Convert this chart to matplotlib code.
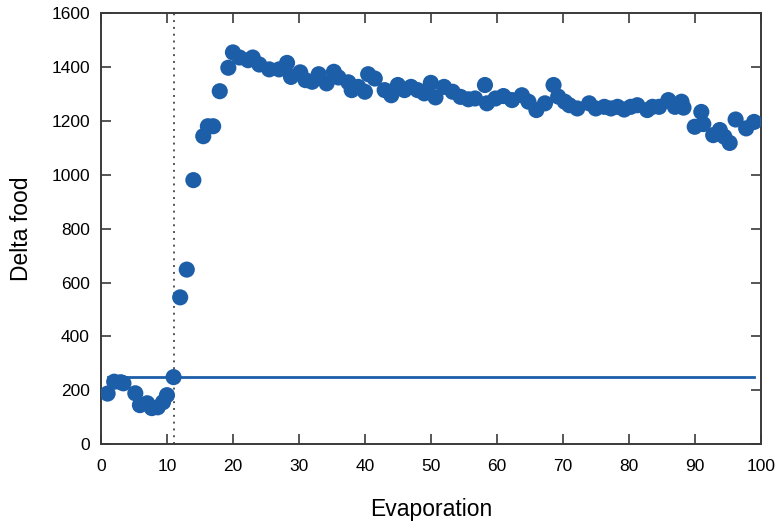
import matplotlib.pyplot as plt

plt.rcParams["font.family"] = ["Liberation Sans", "DejaVu Sans"]

BLUE = "#1c5ea8"
AXIS = "#3a3a3a"

# evaporation rate vs. change in food collected
evaporation = [
    1, 2, 3, 3.4, 5.2, 5.9, 7, 7.7, 8.6, 9.4, 10, 11,
    12, 13, 14, 15.5, 16.2, 17, 18, 19.3, 20, 21, 22.3, 23, 24, 25.5, 27,
    28.2, 28.8, 30.2, 31, 32, 33, 34.2, 35.3, 36, 37.5, 38, 39, 40, 40.5,
    41.5, 43, 44, 45, 46, 47, 48, 49, 50, 50.7, 52, 53.3, 54.5, 55.7, 56.7,
    58.2, 58.5, 59.8, 61, 62.3, 63.8, 64.8, 66, 67.3, 68.6, 69.3, 70.3, 71,
    72.2, 74, 75, 76.3, 77.3, 78.3, 79.3, 80.3, 81.3, 82.8, 83.6, 84.6, 86,
    87, 88, 88.3, 90, 91, 91.3, 92.8, 93.8, 94.5, 95.3, 96.2, 97.8, 99,
]
delta_food = [
    188, 232, 230, 226, 189, 145, 152, 134, 137, 156, 182, 249,
    545, 648, 980, 1143, 1180, 1180, 1310, 1397, 1454, 1435, 1425, 1435,
    1409, 1391, 1391, 1415, 1363, 1380, 1351, 1345, 1373, 1339, 1382, 1361,
    1343, 1314, 1326, 1308, 1373, 1357, 1314, 1295, 1333, 1314, 1326, 1314,
    1302, 1341, 1287, 1326, 1308, 1289, 1280, 1283, 1333, 1265, 1283, 1292,
    1277, 1295, 1271, 1240, 1265, 1333, 1290, 1271, 1258, 1246, 1265, 1246,
    1252, 1246, 1252, 1242, 1252, 1258, 1240, 1252, 1252, 1277, 1252, 1271,
    1249, 1178, 1233, 1188, 1147, 1166, 1141, 1118, 1205, 1172, 1196,
]

baseline = 250
baseline_span = [1, 99]
threshold_x = 11

fig = plt.figure(figsize=(7.77, 5.22), dpi=100)
ax = fig.add_axes([0.130, 0.149, 0.849, 0.826])

ax.axvline(threshold_x, color="#555555", lw=1.4, ls=(0, (1, 2.5)), zorder=1)
ax.plot(baseline_span, [baseline, baseline], color=BLUE, lw=2, zorder=2)
ax.scatter(evaporation, delta_food, s=135, color=BLUE, edgecolors="none", zorder=3)

ax.set_xlim(0, 100)
ax.set_ylim(0, 1600)
ax.set_xticks(range(0, 101, 10))
ax.set_yticks(range(0, 1601, 200))
ax.tick_params(direction="in", length=7, width=1.2, color=AXIS,
               top=True, right=True, labelsize=12.5)
ax.tick_params(axis="x", pad=11)
ax.tick_params(axis="y", pad=8)
for s in ax.spines.values():
    s.set_color(AXIS)
    s.set_linewidth(1.4)

ax.set_xlabel("Evaporation", fontsize=16.5, labelpad=17)
ax.set_ylabel("Delta food", fontsize=16.5, labelpad=13)

fig.savefig("out.png", dpi=100)
